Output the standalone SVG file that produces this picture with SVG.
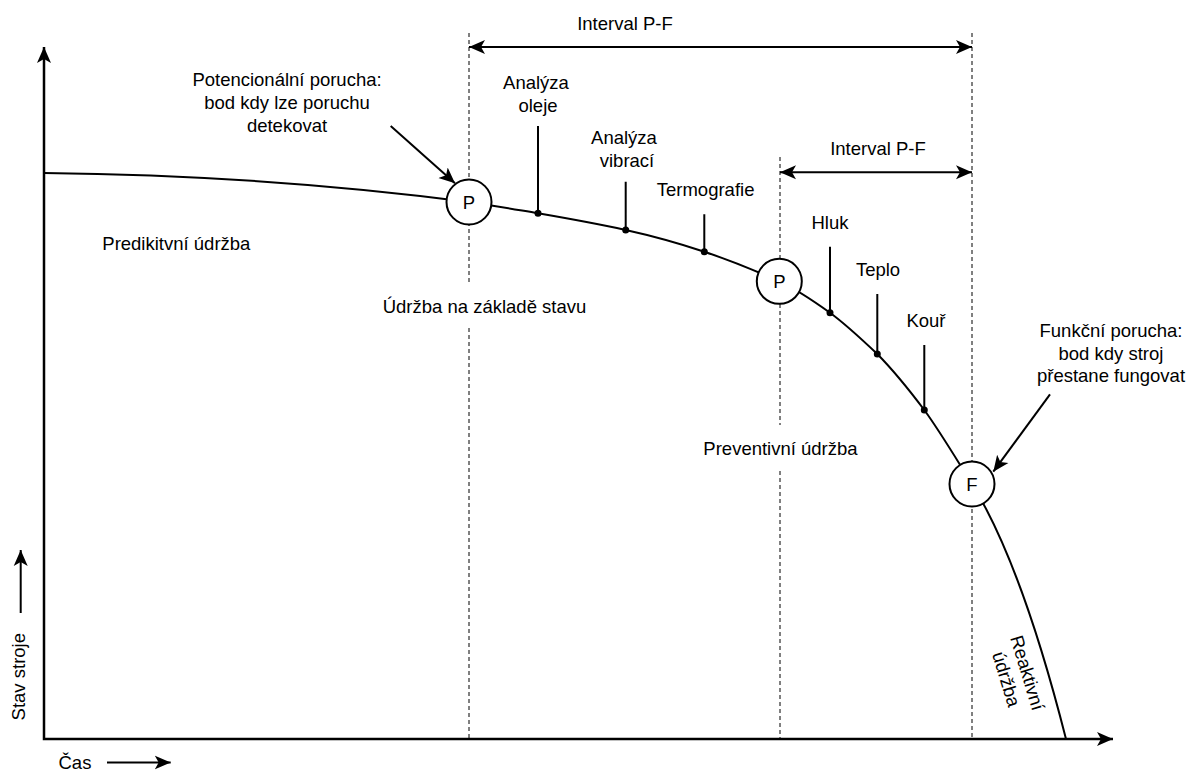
<svg xmlns="http://www.w3.org/2000/svg" width="1189" height="771" viewBox="0 0 1189 771">
  <style>
    .t { font-family: "Liberation Sans", Arial, Helvetica, sans-serif; font-size: 18.5px; fill: #000; }
    .c { text-anchor: middle; }
    .ln { fill: none; stroke: #000; stroke-width: 2; }
    .ax { fill: none; stroke: #000; stroke-width: 2.5; }
    .dash { fill: none; stroke: #000; stroke-width: 1; stroke-dasharray: 4 3; }
    .node { fill: #fff; stroke: #000; stroke-width: 2; }
    .dot { fill: #000; }
  </style>
  <defs>
    <marker id="arr" viewBox="0 0 16 16" refX="16" refY="8" markerWidth="16" markerHeight="16" markerUnits="userSpaceOnUse" orient="auto-start-reverse">
      <path d="M0,1 L16,8 L0,15 L4,8 Z" fill="#000"/>
    </marker>
  </defs>
  <rect width="1189" height="771" fill="#fff"/>

  <g id="connectors">
    <!-- dashed interval boundaries -->
    <path class="dash" d="M469,33 V283 M469,328 V739"/>
    <path class="dash" d="M780,157 V425 M780,471 V739"/>
    <path class="dash" d="M972,33 V739"/>
    <!-- axes -->
    <path class="ax" d="M44,47 L44,739 L1113,739" marker-start="url(#arr)" marker-end="url(#arr)"/>
    <!-- axis label arrows -->
    <path class="ln" d="M20.7,613 V550" marker-end="url(#arr)"/>
    <path class="ln" d="M107,762.5 H170.7" marker-end="url(#arr)"/>
    <!-- interval arrows -->
    <path class="ln" d="M469,47 H972" marker-start="url(#arr)" marker-end="url(#arr)"/>
    <path class="ln" d="M780,172.3 H972" marker-start="url(#arr)" marker-end="url(#arr)"/>
    <!-- pointer arrows -->
    <path class="ln" d="M390.7,126 L455,183.3" marker-end="url(#arr)"/>
    <path class="ln" d="M1050,394.3 L993.3,471.7" marker-end="url(#arr)"/>
    <!-- condition curve -->
    <path class="ln" d="M44,173 C186,174.4 327,183.6 469,202 C492,205.2 515,209.4 538,213.3 C567,218.3 596,223.5 625.7,230 C652,235.8 678,243 704.3,251.7 C729,260 754,270 779.3,281.3 C796,289 813,300.5 830,312.7 C846,324.5 861,338.5 877.3,354 C893,370 908.5,389 924.3,410 C940,431.5 956,458.5 972,484 C1003,534 1035,617 1066,739"/>
    <!-- indicator ticks -->
    <path class="ln" d="M538,126 V213.3 M625.7,181.7 V230 M704.3,214.3 V251.7 M830,246.7 V312.7 M877.3,294 V354 M924.3,345 V410"/>
    <circle class="dot" cx="538" cy="213.3" r="3.5"/>
    <circle class="dot" cx="625.7" cy="230" r="3.5"/>
    <circle class="dot" cx="704.3" cy="251.7" r="3.5"/>
    <circle class="dot" cx="830" cy="312.7" r="3.5"/>
    <circle class="dot" cx="877.3" cy="354" r="3.5"/>
    <circle class="dot" cx="924.3" cy="410" r="3.5"/>
  </g>

  <g id="node-p1">
    <circle class="node" cx="469" cy="202" r="22.5"/>
    <text class="t c" x="469" y="208.6">P</text>
  </g>
  <g id="node-p2">
    <circle class="node" cx="779.3" cy="281.3" r="22.5"/>
    <text class="t c" x="779.3" y="288">P</text>
  </g>
  <g id="node-f">
    <circle class="node" cx="972" cy="484" r="22.5"/>
    <text class="t c" x="972" y="490.6">F</text>
  </g>

  <g id="label-interval-1"><text class="t c" x="625" y="29.5">Interval P-F</text></g>
  <g id="label-interval-2"><text class="t c" x="878" y="155">Interval P-F</text></g>
  <g id="label-potential">
    <text class="t c" x="287" y="86">Potencionální porucha:</text>
    <text class="t c" x="287" y="108.8">bod kdy lze poruchu</text>
    <text class="t c" x="287" y="131.5">detekovat</text>
  </g>
  <g id="label-functional">
    <text class="t c" x="1111" y="337.3">Funkční porucha:</text>
    <text class="t c" x="1111" y="359.6">bod kdy stroj</text>
    <text class="t c" x="1111" y="381.9">přestane fungovat</text>
  </g>
  <g id="label-predictive"><text class="t" x="102.3" y="250">Predikitvní údržba</text></g>
  <g id="label-condition"><text class="t c" x="484.5" y="312.7">Údržba na základě stavu</text></g>
  <g id="label-preventive"><text class="t c" x="780.5" y="455">Preventivní údržba</text></g>
  <g id="label-reactive">
    <text class="t c" transform="translate(1017,676) rotate(73)"><tspan x="0" y="-4.5">Reaktivní</tspan><tspan x="0" y="17.5">údržba</tspan></text>
  </g>
  <g id="label-oil">
    <text class="t c" x="536" y="89.3">Analýza</text>
    <text class="t c" x="538" y="111.7">oleje</text>
  </g>
  <g id="label-vibration">
    <text class="t c" x="624" y="144">Analýza</text>
    <text class="t c" x="627" y="166.5">vibrací</text>
  </g>
  <g id="label-thermo"><text class="t c" x="705.6" y="196">Termografie</text></g>
  <g id="label-noise"><text class="t c" x="830" y="229">Hluk</text></g>
  <g id="label-heat"><text class="t c" x="878" y="276">Teplo</text></g>
  <g id="label-smoke"><text class="t c" x="926" y="326.7">Kouř</text></g>
  <g id="label-yaxis"><text class="t c" transform="translate(25,676.7) rotate(-90)">Stav stroje</text></g>
  <g id="label-xaxis"><text class="t" x="58.5" y="768.5">Čas</text></g>
</svg>
